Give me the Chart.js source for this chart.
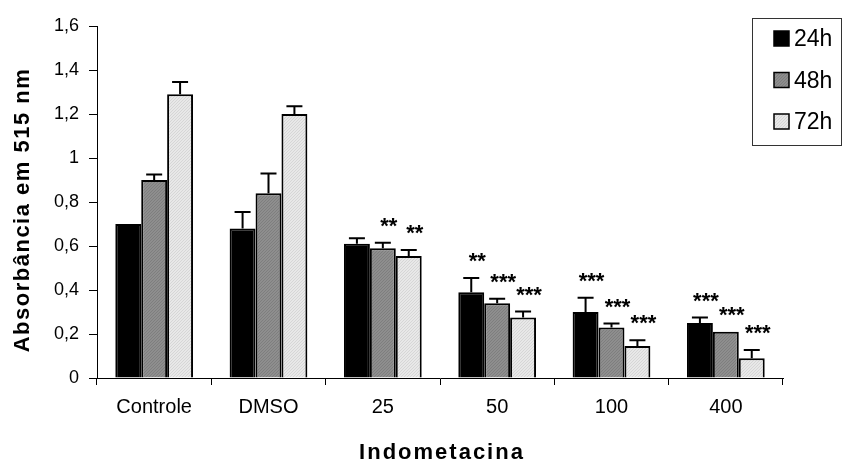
<!DOCTYPE html>
<html>
<head>
<meta charset="utf-8">
<script src="https://cdn.jsdelivr.net/npm/chart.js@4.4.1/dist/chart.umd.min.js"></script>
<style>
  body { margin: 0; background: #fff; }
  #wrap { width: 844px; height: 465px; position: relative; }
</style>
</head>
<body>
<div id="wrap"><canvas id="myChart"></canvas></div>
<script>
// data
let categories = ['Controle', 'DMSO', '25', '50', '100', '400'];
let seriesNames = ['24h', '48h', '72h'];
let values24 = [0.70, 0.68, 0.61, 0.39, 0.30, 0.25];
let values48 = [0.90, 0.84, 0.59, 0.34, 0.23, 0.21];
let values72 = [1.29, 1.20, 0.555, 0.275, 0.145, 0.09];
let err24 = [0, 0.075, 0.025, 0.065, 0.065, 0.025];
let err48 = [0.025, 0.09, 0.025, 0.02, 0.018, 0];
let err72 = [0.055, 0.035, 0.027, 0.027, 0.027, 0.037];
let stars24 = ['', '', '', '**', '***', '***'];
let stars48 = ['', '', '**', '***', '***', '***'];
let stars72 = ['', '', '**', '***', '***', '***'];
let yTicks = [0, 0.2, 0.4, 0.6, 0.8, 1, 1.2, 1.4, 1.6];
let xTitle = 'Indometacina';
let yTitle = 'Absorbância em 515 nm';

let font = "'Liberation Sans', Arial, sans-serif";
let canvas = document.getElementById('myChart');
let ctx = canvas.getContext('2d');

// stippled fills like the old spreadsheet patterns
function dots(base, dot) {
    let c = document.createElement('canvas');
    c.width = 3; c.height = 3;
    let g = c.getContext('2d');
    g.fillStyle = base;
    g.fillRect(0, 0, 3, 3);
    g.fillStyle = dot;
    g.fillRect(0, 0, 1, 1);
    g.fillRect(2, 1, 1, 1);
    g.fillRect(1, 2, 1, 1);
    return ctx.createPattern(c, 'repeat');
}
let fills = ['#000000', dots('#8e8e8e', '#7e7e7e'), dots('#e8e8e8', '#d6d6d6')];
let errs = [err24, err48, err72];
let stars = [stars24, stars48, stars72];

let errorBars = {
    id: 'errorBars',
    afterDatasetsDraw(chart) {
        let c = chart.ctx;
        let y = chart.scales.y;
        c.save();
        c.strokeStyle = '#000';
        c.lineWidth = 2;
        chart.data.datasets.forEach((ds, i) => {
            chart.getDatasetMeta(i).data.forEach((bar, j) => {
                let e = errs[i][j];
                if (!e) return;
                let top = y.getPixelForValue(ds.data[j] + e);
                c.beginPath();
                c.moveTo(bar.x, bar.y);
                c.lineTo(bar.x, top);
                c.moveTo(bar.x - 8, top);
                c.lineTo(bar.x + 8, top);
                c.stroke();
            });
        });
        // significance marks
        c.fillStyle = '#000';
        c.font = 'bold 22px ' + font;
        c.textAlign = 'center';
        c.textBaseline = 'middle';
        chart.data.datasets.forEach((ds, i) => {
            chart.getDatasetMeta(i).data.forEach((bar, j) => {
                let s = stars[i][j];
                if (!s) return;
                let top = y.getPixelForValue(ds.data[j] + errs[i][j]);
                c.fillText(s, bar.x + 6, top - 16);
            });
        });
        c.restore();
    }
};

let extras = {
    id: 'extras',
    afterDraw(chart) {
        let c = chart.ctx;
        let a = chart.chartArea;
        c.save();
        c.fillStyle = '#000';
        c.font = 'bold 22px ' + font;
        c.letterSpacing = '2px';
        c.textAlign = 'center';
        c.textBaseline = 'middle';
        c.fillText(xTitle, (a.left + a.right) / 2 + 2, 453);
        c.letterSpacing = '1.5px';
        c.translate(23, 210);
        c.rotate(-Math.PI / 2);
        c.fillText(yTitle, 0, 0);
        c.restore();

        // legend box
        c.save();
        c.strokeStyle = '#333';
        c.lineWidth = 1;
        c.strokeRect(752.5, 18.5, 89, 127);
        c.font = '23px ' + font;
        c.textBaseline = 'middle';
        c.textAlign = 'left';
        seriesNames.forEach((name, i) => {
            let cy = 39 + i * 41.5;
            c.fillStyle = fills[i];
            c.fillRect(774, cy - 8, 15, 15);
            c.strokeStyle = '#000';
            c.lineWidth = 1.5;
            c.strokeRect(774, cy - 8, 15, 15);
            c.fillStyle = '#000';
            c.fillText(name, 794, cy + 1);
        });
        c.restore();
    }
};

new Chart(canvas, {
    type: 'bar',
    data: {
        labels: categories,
        datasets: [
            { label: seriesNames[0], data: values24, backgroundColor: fills[0], borderColor: '#000', borderWidth: 2 },
            { label: seriesNames[1], data: values48, backgroundColor: fills[1], borderColor: '#000', borderWidth: 2 },
            { label: seriesNames[2], data: values72, backgroundColor: fills[2], borderColor: '#000', borderWidth: 2 }
        ]
    },
    options: {
        responsive: true,
        maintainAspectRatio: false,
        animation: false,
        layout: { padding: { top: 26, right: 61, left: 0, bottom: 0 } },
        datasets: { bar: { categoryPercentage: 0.68, barPercentage: 1 } },
        plugins: { legend: { display: false }, tooltip: { enabled: false } },
        scales: {
            x: {
                grid: { display: true, drawOnChartArea: false, tickLength: 7, color: '#000', offset: true },
                border: { color: '#000', width: 1 },
                ticks: { color: '#000', font: { family: font, size: 20 }, padding: 10, maxRotation: 0 },
                afterFit: s => { s.height = 87; }
            },
            y: {
                min: 0,
                max: 1.6,
                afterBuildTicks: s => { s.ticks = yTicks.map(v => ({ value: v })); },
                grid: { display: true, drawOnChartArea: false, tickLength: 8, color: '#000' },
                border: { color: '#000', width: 1 },
                ticks: {
                    color: '#000',
                    font: { family: font, size: 18 },
                    padding: 10,
                    callback: v => String(Math.round(v * 10) / 10).replace('.', ',')
                },
                afterFit: s => { s.width = 97; }
            }
        }
    },
    plugins: [errorBars, extras]
});
</script>
</body>
</html>
